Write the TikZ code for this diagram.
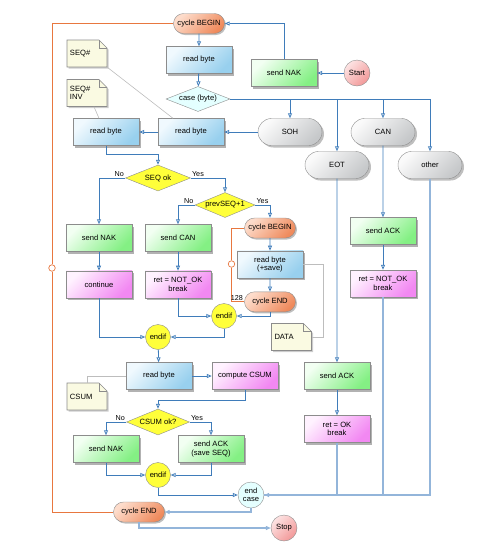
\documentclass[tikz,border=0pt]{standalone}
\usepackage{fontspec}
\setmainfont{Liberation Sans}
\usepackage{tikz}
\usetikzlibrary{shapes.geometric, shapes.misc, arrows.meta, positioning, calc, shadows}

\definecolor{flowc}{HTML}{3F7CBA}
\definecolor{flowl}{HTML}{93B5DA}
\definecolor{loopc}{HTML}{E8773F}
\definecolor{edgec}{HTML}{8C8C8C}
\definecolor{noteln}{HTML}{BDBDBD}
\definecolor{blueA}{HTML}{F0F9FE}
\definecolor{blueB}{HTML}{98D0EE}
\definecolor{greenA}{HTML}{F2FFF2}
\definecolor{greenB}{HTML}{84F084}
\definecolor{pinkA}{HTML}{FFF2FF}
\definecolor{pinkB}{HTML}{F288F2}
\definecolor{orangeA}{HTML}{FDDCCB}
\definecolor{orangeB}{HTML}{EF8A5C}
\definecolor{grayA}{HTML}{FAFAFA}
\definecolor{grayB}{HTML}{C6C8CA}
\definecolor{redA}{HTML}{FDE4E4}
\definecolor{redB}{HTML}{F29898}
\definecolor{yellowc}{HTML}{FFFF3A}
\definecolor{cyanA}{HTML}{E4FFFF}
\definecolor{noteA}{HTML}{FAFAE2}

% note with folded corner: name, centre, text
\newcommand{\notebox}[3]{%
  \coordinate (#1-c) at #2;
  \filldraw[notefill] ($(#1-c)+(-20pt,-13.5pt)$) -- ($(#1-c)+(-20pt,13.5pt)$) -- ($(#1-c)+(12pt,13.5pt)$)
    -- ($(#1-c)+(20pt,5.5pt)$) -- ($(#1-c)+(20pt,-13.5pt)$) -- cycle;
  \draw[draw=edgec, line width=0.6pt] ($(#1-c)+(12pt,13.5pt)$) -- ($(#1-c)+(12pt,5.5pt)$) -- ($(#1-c)+(20pt,5.5pt)$);
  \node[notetext] (#1) at (#1-c) {#3};}

\begin{document}
\begin{tikzpicture}[x=1pt, y=-1pt,
        node distance=19pt,
        font=\fontsize{7.6}{8.6}\selectfont,
        flow/.style={draw=flowc, line width=0.8pt, -{Triangle[open, length=5pt, width=4pt]}},
        flowb/.style={flow, draw=flowl, line width=1.2pt},
        link/.style={draw=flowl, line width=1.2pt},
        looppath/.style={draw=loopc, line width=0.9pt},
        noteline/.style={draw=noteln, line width=0.6pt},
        loopmark/.style={circle, draw=loopc, fill=white, minimum size=6.5pt, inner sep=0pt, line width=0.7pt},
        box/.style={rectangle, draw=edgec, minimum width=66pt, minimum height=27pt, align=center, inner sep=1pt,
            drop shadow={shadow xshift=2pt, shadow yshift=-2pt, opacity=0.3, fill=black}},
        readbox/.style={box, top color=blueA, bottom color=blueB, shading angle=45},
        sendbox/.style={box, top color=greenA, bottom color=greenB, shading angle=45},
        retbox/.style={box, top color=pinkA, bottom color=pinkB, shading angle=45},
        cyclebox/.style={rounded rectangle, draw=edgec, minimum width=53pt, minimum height=20pt, inner sep=1pt,
            top color=orangeA, bottom color=orangeB, shading angle=45,
            drop shadow={shadow xshift=1.5pt, shadow yshift=-1.5pt, opacity=0.25, fill=black}},
        casebox/.style={rounded rectangle, draw=edgec, minimum width=66pt, minimum height=27pt, inner sep=1pt,
            top color=grayA, bottom color=grayB, shading angle=45,
            drop shadow={shadow xshift=2pt, shadow yshift=-2pt, opacity=0.25, fill=black}},
        decide/.style={diamond, aspect=2.4, draw=edgec, fill=yellowc, inner sep=0pt},
        joinpt/.style={circle, draw=edgec, fill=yellowc, minimum size=25pt, inner sep=0pt},
        terminal/.style={circle, draw=edgec, minimum size=26pt, inner sep=0pt, top color=redA, bottom color=redB, shading angle=45},
        lbl/.style={inner sep=1pt, font=\fontsize{7.2}{8}\selectfont},
        notefill/.style={draw=edgec, line width=0.6pt, fill=noteA,
            drop shadow={shadow xshift=1.5pt, shadow yshift=-1.5pt, opacity=0.2, fill=black}},
        notetext/.style={rectangle, minimum width=40pt, minimum height=27pt, text width=34pt, align=left, inner sep=0pt}
    ]
        \useasboundingbox (0,0) rectangle (495,558);

        % main loop
        \node[cyclebox] (cbeg) at (199,23.5) {cycle BEGIN};
        \node[readbox] (rb0) at (199,60) {read byte};
        \node[decide, fill=cyanA, minimum width=64pt, minimum height=25pt, inner sep=-1pt] (case) at (198,99) {case (byte)};
        \node[sendbox] (sendnak0) at (284,73) {send NAK};
        \node[terminal] (start) at (357,73) {Start};

        \node[casebox] (soh) at (290,132) {SOH};
        \node[casebox] (eot) at (337,165) {EOT};
        \node[casebox] (can) at (383,132) {CAN};
        \node[casebox] (other) at (430,165) {other};

        % SOH branch
        \node[readbox] (rb1) at (191,132) {read byte};
        \node[readbox] (rb2) at (106,132) {read byte};
        \notebox{noteseq}{(87,53.5)}{SEQ\#}
        \notebox{noteinv}{(87,93)}{SEQ\#\\INV}

        \node[decide, minimum width=65pt, minimum height=26pt] (seqok) at (158,178) {SEQ ok};
        \node[decide, minimum width=60pt, minimum height=25pt] (pseq) at (225,205) {prevSEQ+1};

        \node[sendbox] (sendnak1) at (99,238) {send NAK};
        \node[retbox, below=of sendnak1] (contin) {continue};
        \node[sendbox] (sendcan) at (178,238) {send CAN};
        \node[retbox, below=of sendcan] (retnok1) {ret = NOT\_OK\\break};

        \node[cyclebox] (cbeg2) at (270,228) {cycle BEGIN};
        \node[readbox, below=12.5pt of cbeg2] (rbsave) {read byte\\(+save)};
        \node[cyclebox, below=13.5pt of rbsave] (cend2) {cycle END};
        \node[loopmark] (lm1) at (231.5,264) {};
        \notebox{notedata}{(291.5,337)}{DATA}

        \node[joinpt] (endif1) at (224,316) {endif};
        \node[joinpt] (endif0) at (158,337) {endif};

        \node[readbox] (rb3) at (159,376) {read byte};
        \node[retbox] (csum) at (245,376) {compute CSUM};
        \notebox{notecsum}{(87,396.5)}{CSUM}
        \node[decide, minimum width=63pt, minimum height=26pt] (csumok) at (158,422) {CSUM ok?};
        \node[sendbox] (sendnak2) at (106,449) {send NAK};
        \node[sendbox] (sendack0) at (211,449) {send ACK\\(save SEQ)};
        \node[joinpt] (endif2) at (158,475) {endif};

        % CAN and EOT branches
        \node[sendbox] (sendack1) at (383,231) {send ACK};
        \node[retbox] (retnok2) at (383,283.5) {ret = NOT\_OK\\break};
        \node[sendbox] (sendack2) at (337,376) {send ACK};
        \node[retbox] (retok) at (337,429) {ret = OK\\break};

        \node[circle, draw=edgec, fill=cyanA, minimum size=26pt, inner sep=0pt, align=center] (endcase) at (251,495) {end\\[-1pt]case};
        \node[cyclebox] (cend) at (139,512) {cycle END};
        \node[terminal] (stop) at (284,528) {Stop};
        \node[loopmark] (lm0) at (52,268) {};

        % outer cycle
        \draw[looppath] (cbeg.west) -| (lm0.north);
        \draw[looppath] (lm0.south) |- (cend.west);
        \draw[flow] (cbeg) -- (rb0);
        \draw[flow] (rb0) -- (case);
        \draw[flow] (sendnak0.north) |- (cbeg.east);
        \draw[flow] (start) -- (sendnak0);

        % case branches
        \draw[flow] (case.east) -| (soh.north);
        \draw[flow] (case.east) -| (eot.north);
        \draw[flow] (case.east) -| (can.north);
        \draw[flow] (case.east) -| (other.north);

        \draw[flow] (soh) -- (rb1);
        \draw[flow] (rb1) -- (rb2);
        \draw[noteline] (noteseq.south east) -- ([xshift=-18pt]rb1.north);
        \draw[noteline] ([xshift=7pt]noteinv.south) -- ([xshift=-7pt]rb2.north);
        \draw[flow] (rb2.south) -- ++(0,9) -| (seqok.north);

        \draw[flow] (seqok.west) node[lbl, above left] {No} -| (sendnak1.north);
        \draw[flow] (seqok.east) node[lbl, above right] {Yes} -| (pseq.north);
        \draw[flow] (pseq.west) node[lbl, above left] {No} -| (sendcan.north);
        \draw[flow] (pseq.east) node[lbl, above right] {Yes} -| (cbeg2.north);

        \draw[flow] (sendnak1) -- (contin);
        \draw[flow] (sendcan) -- (retnok1);
        \draw[flow] (cbeg2) -- (rbsave);
        \draw[flow] (rbsave) -- (cend2);
        \draw[looppath] (cbeg2.west) -| (lm1.north);
        \draw[looppath] (lm1.south) |- (cend2.west) node[lbl, above left] {128};
        \draw[noteline] (rbsave.east) -- ++(20,0) |- (notedata.east);

        \draw[flow] (cend2.south) |- (endif1.east);
        \draw[flow] (retnok1.south) |- (endif1.west);
        \draw[flow] (endif1.south) |- (endif0.east);
        \draw[flow] (contin.south) |- (endif0.west);

        % checksum
        \draw[flow] (endif0) -- (rb3);
        \draw[flow] (rb3) -- (csum);
        \draw[noteline] (rb3.west) -| (notecsum.north);
        \draw[flow] (csum.south) -- ++(0,10.5) -| (csumok.north);
        \draw[flow] (csumok.west) node[lbl, above left] {No} -| (sendnak2.north);
        \draw[flow] (csumok.east) node[lbl, above right] {Yes} -| (sendack0.north);
        \draw[flow] (sendnak2.south) |- (endif2.west);
        \draw[flow] (sendack0.south) |- (endif2.east);
        \draw[flow] (endif2.south) |- (endcase.west);

        \draw[flow] (can) -- (sendack1);
        \draw[flow] (sendack1) -- (retnok2);
        \draw[flow] (eot) -- (sendack2);
        \draw[flow] (sendack2) -- (retok);

        % end of case
        \draw[link] (other.south) |- (endcase.east);
        \draw[link] (retnok2.south) |- (endcase.east);
        \draw[flowb] (retok.south) |- (endcase.east);
        \draw[flowb] (endcase.south) |- (cend.east);
        \draw[flowb] (cend.south) |- (stop.west);

    \end{tikzpicture}
\end{document}
